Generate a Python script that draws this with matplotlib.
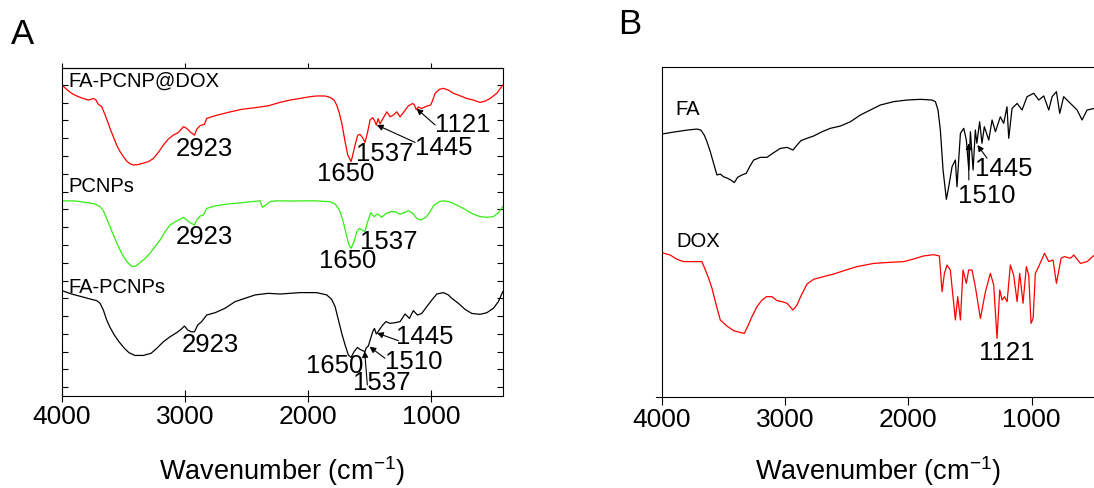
import numpy as np
import matplotlib
matplotlib.use("Agg")
import matplotlib.pyplot as plt

plt.rcParams["font.family"] = ["Liberation Sans", "DejaVu Sans"]
plt.rcParams["mathtext.fontset"] = "custom"
plt.rcParams["mathtext.rm"] = "Liberation Sans"

# ---------------- panel A spectra (wavenumber cm-1, transmittance a.u.) ----------------
wn_dox = [4000, 3948, 3908, 3867, 3827, 3786, 3745, 3726, 3705, 3677, 3650, 3629, 3610,
          3583, 3556, 3528, 3501, 3474, 3447, 3420, 3385, 3347, 3298, 3257, 3217, 3176,
          3136, 3095, 3054, 3014, 2986, 2959, 2923, 2905, 2878, 2843, 2824, 2756, 2648,
          2539, 2431, 2322, 2228, 2146, 2065, 1984, 1930, 1862, 1821, 1789, 1767, 1745,
          1723, 1699, 1677, 1650, 1640, 1618, 1596, 1577, 1556, 1537, 1515, 1496, 1474,
          1458, 1445, 1430, 1415, 1395, 1360, 1333, 1306, 1279, 1252, 1220, 1184, 1149,
          1135, 1121, 1103, 1076, 1035, 1003, 986, 967, 932, 900, 859, 818, 764, 710, 656,
          602, 561, 520, 466, 417]
t_dox = [169.8, 166.5, 164.6, 163.3, 162.3, 161.4, 162.3, 161.6, 159.0, 157.7, 153.0, 149.2,
         145.5, 140.8, 136.1, 132.4, 129.6, 127.1, 125.6, 124.9, 125.1, 125.8, 126.8, 128.6,
         132.0, 136.1, 139.5, 141.7, 143.2, 146.4, 145.5, 143.5, 141.7, 145.0, 147.0, 147.7,
         151.1, 152.6, 154.5, 156.2, 157.1, 158.2, 160.1, 161.4, 162.3, 163.3, 163.7, 163.7,
         162.9, 161.4, 158.6, 153.9, 147.4, 138.0, 130.5, 126.8, 129.6, 136.1, 141.7, 142.1,
         140.2, 137.6, 143.6, 150.2, 151.5, 149.6, 147.4, 151.0, 148.0, 150.5, 154.8, 152.0,
         153.0, 154.8, 152.0, 154.8, 158.2, 159.5, 158.6, 156.0, 157.5, 156.7, 158.0, 158.6,
         161.4, 165.2, 167.4, 168.0, 167.0, 165.2, 163.8, 162.3, 161.4, 160.1, 160.8, 162.3,
         165.2, 169.8]

wn_pcnp = [4000, 3894, 3786, 3732, 3691, 3664, 3637, 3610, 3583, 3547, 3515, 3482, 3455,
           3428, 3401, 3366, 3325, 3285, 3244, 3203, 3163, 3122, 3081, 3041, 3014, 2986,
           2959, 2923, 2905, 2878, 2851, 2824, 2756, 2648, 2539, 2390, 2371, 2344, 2309,
           2255, 2187, 2100, 1957, 1821, 1780, 1745, 1718, 1691, 1667, 1650, 1626, 1604,
           1583, 1564, 1537, 1518, 1490, 1463, 1436, 1401, 1366, 1328, 1293, 1252, 1220,
           1184, 1149, 1116, 1084, 1041, 1008, 976, 932, 900, 845, 791, 737, 669, 602, 547,
           493, 453, 417]
t_pcnp = [104.8, 104.7, 103.7, 103.0, 101.5, 99.2, 94.9, 90.2, 85.6, 79.9, 75.3, 71.5, 69.3,
          67.8, 68.1, 70.0, 72.4, 75.3, 79.0, 82.7, 87.4, 91.2, 93.0, 94.4, 95.5, 94.0,
          92.5, 91.2, 94.0, 96.2, 96.8, 100.5, 101.9, 103.0, 103.7, 104.8, 101.1, 102.4,
          104.3, 104.8, 104.7, 104.7, 104.8, 104.3, 103.0, 99.6, 94.0, 86.5, 79.9, 78.1,
          81.8, 87.4, 89.3, 88.4, 87.4, 92.5, 98.1, 95.9, 97.4, 95.5, 97.7, 98.7, 98.7,
          97.2, 98.1, 99.2, 97.7, 94.9, 94.0, 95.5, 98.7, 102.4, 104.3, 104.8, 104.1, 102.4,
          100.5, 97.7, 95.9, 95.5, 95.9, 98.1, 101.5]

wn_fapcnp = [4000, 3921, 3840, 3759, 3718, 3691, 3664, 3637, 3610, 3575, 3537, 3493, 3455,
             3407, 3339, 3276, 3230, 3176, 3122, 3068, 3032, 3005, 2978, 2951, 2923, 2897,
             2865, 2824, 2756, 2675, 2594, 2512, 2431, 2323, 2228, 2065, 1930, 1848, 1808,
             1780, 1753, 1726, 1699, 1672, 1650, 1626, 1599, 1577, 1537, 1528, 1510, 1474,
             1460, 1445, 1393, 1366, 1333, 1293, 1252, 1211, 1176, 1144, 1111, 1076, 1035,
             994, 954, 900, 859, 832, 778, 724, 669, 602, 547, 493, 453, 417]
t_fapcnp = [54.3, 52.4, 50.9, 49.4, 48.7, 47.2, 43.4, 37.8, 33.7, 29.4, 25.6, 21.9, 19.4,
            17.9, 17.9, 19.1, 21.9, 25.6, 28.4, 30.7, 32.6, 34.4, 32.2, 31.2, 31.2, 35.0,
            36.9, 40.6, 41.9, 44.4, 48.1, 50.0, 51.9, 52.8, 52.4, 53.2, 53.2, 51.9, 49.4,
            45.3, 37.8, 30.3, 23.8, 18.1, 16.8, 20.0, 22.4, 21.3, 20.0, 22.0, 23.2, 31.3,
            33.1, 29.9, 35.0, 36.9, 35.9, 36.3, 36.9, 41.2, 38.7, 43.1, 40.6, 41.5, 45.3,
            49.0, 52.4, 53.2, 51.9, 50.0, 47.2, 43.8, 41.5, 41.0, 41.9, 44.4, 48.1, 53.7]

# ---------------- panel B spectra ----------------
wn_fa = [4000, 3905, 3797, 3716, 3684, 3657, 3635, 3608, 3581, 3554, 3527, 3500, 3467,
         3440, 3413, 3386, 3351, 3316, 3289, 3256, 3202, 3148, 3094, 3040, 2985, 2937,
         2904, 2872, 2823, 2769, 2701, 2634, 2552, 2471, 2390, 2309, 2228, 2120, 2011,
         1903, 1808, 1781, 1760, 1741, 1719, 1692, 1673, 1646, 1619, 1606, 1578, 1551,
         1530, 1510, 1497, 1475, 1457, 1445, 1422, 1403, 1384, 1348, 1321, 1294, 1254,
         1227, 1200, 1186, 1159, 1118, 1078, 1037, 983, 942, 902, 861, 834, 799, 772, 740,
         685, 631, 591, 550, 491]
t_fa = [142.3, 143.4, 144.5, 145.1, 144.5, 141.7, 138.0, 132.4, 125.8, 119.3, 119.8, 118.3,
        117.4, 116.4, 115.0, 118.0, 119.3, 120.2, 123.9, 127.7, 129.2, 129.2, 131.8, 134.2,
        134.8, 133.3, 136.1, 138.6, 139.9, 141.2, 143.6, 145.5, 146.8, 149.2, 153.0, 155.8,
        158.6, 160.5, 161.4, 161.8, 161.4, 160.5, 155.8, 144.6, 122.1, 105.6, 112.7, 123.9,
        127.7, 112.7, 142.7, 145.5, 138.9, 122.1, 143.6, 122.1, 144.6, 137.1, 149.2, 137.1,
        146.4, 138.9, 150.2, 143.6, 152.0, 148.3, 157.6, 139.9, 156.7, 159.5, 155.8, 163.3,
        165.2, 161.4, 163.7, 155.8, 163.3, 166.1, 153.9, 163.3, 159.5, 155.8, 150.2, 155.8,
        156.7]

wn_dx = [4000, 3933, 3878, 3824, 3743, 3676, 3648, 3621, 3594, 3567, 3527, 3473, 3418,
         3370, 3332, 3305, 3270, 3229, 3188, 3153, 3107, 3067, 3026, 2985, 2937, 2904,
         2872, 2823, 2769, 2688, 2607, 2525, 2417, 2282, 2147, 2038, 1957, 1876, 1795,
         1749, 1727, 1708, 1687, 1660, 1619, 1600, 1578, 1557, 1530, 1511, 1484, 1457,
         1416, 1375, 1335, 1308, 1281, 1259, 1240, 1221, 1199, 1173, 1146, 1118, 1097,
         1070, 1043, 1024, 1005, 988, 970, 943, 896, 861, 826, 799, 761, 734, 685, 658,
         604, 550, 491]
t_dx = [75.6, 74.3, 71.9, 70.6, 70.6, 70.6, 65.9, 61.2, 55.6, 48.1, 37.8, 34.4, 31.8, 30.9,
        30.3, 34.1, 39.7, 45.3, 49.0, 50.9, 50.9, 48.7, 48.1, 47.2, 43.4, 46.2, 51.3, 58.0,
        60.7, 62.2, 63.6, 65.5, 67.8, 69.6, 70.2, 70.6, 72.1, 73.8, 74.5, 73.8, 53.7, 64.0,
        68.7, 65.9, 37.8, 50.9, 37.8, 65.9, 58.4, 65.9, 65.9, 56.5, 38.7, 53.7, 64.0, 57.5,
        27.5, 54.7, 49.0, 50.9, 48.1, 68.7, 63.1, 48.1, 64.0, 47.2, 67.8, 63.1, 35.9, 38.7,
        64.0, 67.8, 75.3, 70.6, 71.5, 58.4, 72.5, 73.4, 72.5, 74.3, 69.6, 70.6, 74.3]

xticks = [4000, 3000, 2000, 1000]

fig = plt.figure(figsize=(10.94, 4.88), dpi=100)
axA = fig.add_axes([0.0567, 0.1885, 0.4031, 0.6721])
axB = fig.add_axes([0.6051, 0.1871, 0.3949, 0.6750])

# panel A
axA.plot(wn_dox, t_dox, color="#ff0000", lw=0.9)
axA.plot(wn_pcnp, t_pcnp, color="#33ee11", lw=0.9)
axA.plot(wn_fapcnp, t_fapcnp, color="black", lw=0.9)
axA.set_xlim(4000, 415)
axA.set_ylim(-4.9, 179.4)
axA.set_xticks(xticks)
axA.set_yticks(np.arange(0, 171, 10))
axA.tick_params(axis="y", left=True, right=True, direction="in", length=4,
                labelleft=False)
axA.tick_params(axis="x", direction="inout", length=9)
axA.secondary_xaxis("top").set_xticks(xticks, labels=[])
axA.xaxis.set_label_coords(0.5, -0.229)

# panel B
axB.plot(wn_fa, t_fa, color="black", lw=0.9)
axB.plot(wn_dx, t_dx, color="#ff0000", lw=0.9)
axB.set_xlim(4000, 494)
axB.set_ylim(-5.3, 179.8)
axB.set_xticks(xticks)
axB.set_yticks([])
axB.spines["right"].set_visible(False)
axB.spines["bottom"].set_bounds(4050, 494)
axB.tick_params(axis="x", direction="out", length=6)
axB.xaxis.set_label_coords(0.537, -0.226)

for ax in (axA, axB):
    for lab in ax.get_xticklabels():
        lab.set_fontsize(19)
    ax.tick_params(axis="x", pad=2)
    ax.set_xlabel("Wavenumber (cm$^{\\mathregular{-1}}$)", fontsize=19.5, va="center")

# curve names
name_kw = dict(fontsize=14.5, va="center", ha="left")
axA.text(3951, 171.8, "FA-PCNP@DOX", **name_kw)
axA.text(3951, 113.1, "PCNPs", **name_kw)
axA.text(3951, 56.1, "FA-PCNPs", **name_kw)
axB.text(3892, 156.3, "FA", **name_kw)
axB.text(3884, 81.9, "DOX", **name_kw)

# peak labels
num_kw = dict(fontsize=18.5, ha="center", va="center")
arrow = dict(arrowstyle="-|>", color="black", lw=0.8, mutation_scale=9,
             shrinkA=0, shrinkB=0)

axA.text(2846, 133.9, "2923", **num_kw)
axA.text(1691, 119.8, "1650", **num_kw)
axA.text(1374, 131.1, "1537", **num_kw)
axA.text(898, 134.7, "1445", **num_kw)
axA.annotate("", xy=(1441, 147.4), xytext=(1130, 137.6), arrowprops=arrow)
axA.text(744, 147.4, "1121", **num_kw)
axA.annotate("", xy=(1118, 156.6), xytext=(967, 147.4), arrowprops=arrow)

axA.text(2846, 84.6, "2923", **num_kw)
axA.text(1675, 71.0, "1650", **num_kw)
axA.text(1341, 81.8, "1537", **num_kw)

axA.text(2793, 23.8, "2923", **num_kw)
axA.text(1780, 12.0, "1650", **num_kw)
axA.text(1398, 2.4, "1537", **num_kw)
axA.annotate("", xy=(1540, 20.3), xytext=(1518, 1.3), arrowprops=arrow)
axA.text(1142, 14.2, "1510", **num_kw)
axA.annotate("", xy=(1500, 22.8), xytext=(1374, 16.3), arrowprops=arrow)
axA.text(1049, 28.0, "1445", **num_kw)
axA.annotate("", xy=(1440, 30.5), xytext=(1266, 26.2), arrowprops=arrow)

axB.text(1227, 122.6, "1445", **num_kw)
axB.annotate("", xy=(1440, 136.1), xytext=(1362, 128.7), arrowprops=arrow)
axB.text(1364, 107.5, "1510", **num_kw)
axB.annotate("", xy=(1510, 137.1), xytext=(1510, 116.5), arrowprops=arrow)
axB.text(1205, 19.1, "1121", **num_kw)

# panel letters
fig.text(0.0206, 0.929, "A", fontsize=25, ha="center", va="center")
fig.text(0.5759, 0.950, "B", fontsize=25, ha="center", va="center")

fig.savefig("out.png", dpi=100)
